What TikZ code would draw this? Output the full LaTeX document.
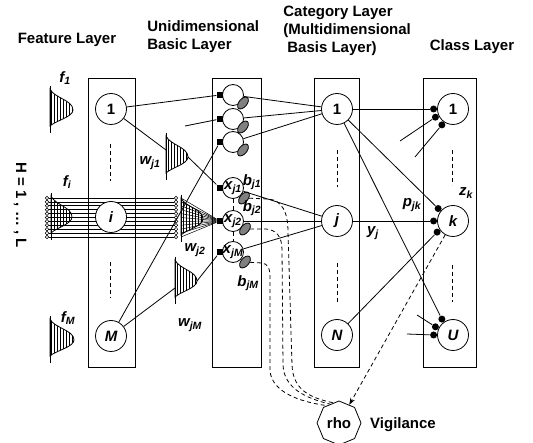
\documentclass[tikz,border=0pt]{standalone}
\usepackage{fontspec}
\setmainfont{Liberation Sans}
\usetikzlibrary{patterns.meta,shapes.geometric,arrows.meta}

% half bell with vertical hatching: name, stem x, peak y, height
\newcommand{\bell}[4]{%
  \coordinate (#1-top) at (#2,#3-24);
  \coordinate (#1-bot) at (#2,#3+23);
  \coordinate (#1-pk) at (#2+#4,#3);
  \draw [pattern={Lines[angle=90,distance=3pt,line width=0.7pt]}] (#2,#3-21) .. controls (#2+4,#3-12) and (#2+#4,#3-10) .. (#1-pk) .. controls (#2+#4,#3+7) and (#2+5,#3+11) .. (#2,#3+16) -- cycle;
  \draw [] (#1-top) -- (#1-bot);
}

\begin{document}
\begin{tikzpicture}[x=1pt,y=-1pt,line width=0.8pt,
  font=\fontsize{15}{18}\selectfont\bfseries,
  lab/.style={font=\fontsize{15}{18}\selectfont\bfseries\itshape},
  unit/.style={circle,draw,fill=white,minimum size=31pt,inner sep=0pt},
  basic/.style={circle,draw,fill=white,minimum size=21pt,inner sep=0pt},
  sq/.style={rectangle,fill=black,minimum size=6.5pt,inner sep=0pt},
  bias/.style={ellipse,draw,fill=gray,minimum width=14pt,minimum height=8pt,inner sep=0pt,rotate=50},
  jdot/.style={circle,fill=black,minimum size=7pt,inner sep=0pt},
  tap/.style={circle,draw,fill=white,minimum size=3.6pt,inner sep=0pt,line width=0.5pt},
  dsh/.style={dash pattern=on 4pt off 3pt},
  ttl/.style={align=left,inner sep=0pt},
  vig/.style={regular polygon,regular polygon sides=8,shape border rotate=22.5,draw,fill=white,minimum size=44pt,inner sep=0pt}]
\useasboundingbox (0,0) rectangle (533,443);

\node [ttl] (tfeat) at (67,40) {Feature Layer};
\node [ttl,anchor=west] (tuni) at (147,37) {Unidimensional\\Basic Layer};
\node [ttl,anchor=west] (tcat) at (283,31) {Category Layer\\(Multidimensional\\\hspace*{4pt}Basis Layer)};
\node [ttl] (tcls) at (472,47) {Class Layer};
\node [rotate=-90] (hrange) at (20,205) {H = 1 , … , L};

\draw [] (88,78) rectangle (135,367);
\draw [] (212,78) rectangle (261,367);
\draw [] (314,78) rectangle (359,367);
\draw [] (423,78) rectangle (476,367);

% feature layer
\bell{bf1}{50}{110}{23}
\bell{bfi}{51}{217}{21}
\bell{bfM}{50}{340}{24}
\bell{bw1}{166}{157}{22}
\bell{bw2}{181}{219}{22}
\bell{bwM}{175}{281}{22}
\foreach \k in {0,...,10} {
  \node [tap] (ta\k) at (47,198+3.9*\k) {};
  \node [tap] (tb\k) at (176,198+3.9*\k) {};
  \coordinate (tc\k) at (181,198+3.9*\k);
  \draw [line width=0.6pt] (ta\k) -- (tb\k);
}
\node [unit] (f1) at (111,109) {1};
\node [unit,lab] (fi) at (111,217) {i};
\node [unit,lab] (fM) at (111,336) {M};
\draw [dsh] (110,144) -- (110,181);
\draw [dsh] (110,262) -- (110,298);
\node [lab] (lf1) at (65,78) {f\textsubscript{1}};
\node [lab] (lfi) at (67,182) {f\textsubscript{i}};
\node [lab] (lfM) at (68,318) {f\textsubscript{M}};
\node [lab] (lw1) at (150,163) {w\textsubscript{j1}};
\node [lab] (lw2) at (195,250) {w\textsubscript{j2}};
\node [lab] (lwM) at (190,325) {w\textsubscript{jM}};

% unidimensional basic layer
\node [basic] (u1) at (233,95) {};
\node [basic] (u2) at (233,119) {};
\node [basic] (u3) at (233,142) {};
\node [basic,label={[lab]center:x\textsubscript{j1}}] (xj1) at (233,188) {};
\node [basic,label={[lab]center:x\textsubscript{j2}}] (xj2) at (233,221) {};
\node [basic,label={[lab]center:x\textsubscript{jM}}] (xjM) at (233,252) {};
\draw [dsh] (xj1) -- (xj2);
\draw [dsh] (xj2) -- (xjM);
\node [bias] (e1) at (243,103) {};
\node [bias] (e2) at (243,127) {};
\node [bias] (e3) at (243,150) {};
\node [bias] (bj1) at (244,198) {};
\node [bias] (bj2) at (245,229) {};
\node [bias] (bjM) at (245,262) {};
\node [sq] (q1) at (220,95) {};
\node [sq] (q2) at (220,119) {};
\node [sq] (q3) at (220,142) {};
\node [sq] (qx1) at (220,188) {};
\node [sq] (qx2) at (220,221) {};
\node [sq] (qxM) at (220,252) {};
\node [lab] (lb1) at (252,182) {b\textsubscript{j1}};
\node [lab] (lb2) at (252,208) {b\textsubscript{j2}};
\node [lab] (lbM) at (248,283) {b\textsubscript{jM}};

\coordinate (w1in) at (166,150);
\coordinate (wMin) at (175,288);
\coordinate (st2) at (185,126);
\draw [] (f1) -- (q1);
\draw [] (f1) -- (w1in);
\draw [] (bw1-pk) -- (qx1);
\draw [] (st2) -- (q2);
\draw [] (fM) -- (q3);
\draw [] (fM) -- (wMin);
\draw [] (bwM-pk) -- (qxM);
\foreach \k in {0,...,10} \draw [line width=0.5pt] (tc\k) -- (qx2);

% category layer
\node [unit] (c1) at (337,109) {1};
\node [unit,lab] (cj) at (337,221) {j};
\node [unit,lab] (cN) at (337,335) {N};
\draw [dsh] (337,150) -- (337,187);
\draw [dsh] (337,263) -- (337,302);
\draw [] (u1) -- (c1);
\draw [] (u2) -- (c1);
\draw [] (u3) -- (c1);
\draw [] (xj1) -- (cj);
\draw [] (xj2) -- (cj);
\draw [] (xjM) -- (cj);

% class layer
\node [unit] (k1) at (453,109) {1};
\node [unit,lab] (kk) at (453,221) {k};
\node [unit,lab] (kU) at (453,335) {U};
\draw [dsh] (452,150) -- (452,185);
\draw [dsh] (452,265) -- (452,302);
\node [jdot] (d11) at ([shift={(180:3.5pt)}]k1.180) {};
\node [jdot] (d12) at ([shift={(205:3.5pt)}]k1.205) {};
\node [jdot] (d13) at ([shift={(235:3.5pt)}]k1.235) {};
\node [jdot] (dk1) at ([shift={(140:3.5pt)}]kk.140) {};
\node [jdot] (dk2) at ([shift={(180:3.5pt)}]kk.180) {};
\node [jdot] (dk3) at ([shift={(215:3.5pt)}]kk.215) {};
\node [jdot] (dU1) at ([shift={(125:3.5pt)}]kU.125) {};
\node [jdot] (dU2) at ([shift={(155:3.5pt)}]kU.155) {};
\node [jdot] (dU3) at ([shift={(180:3.5pt)}]kU.180) {};
\coordinate (st12) at (400,141);
\coordinate (st13) at (415,157);
\coordinate (stU2) at (417,315);
\coordinate (stU3) at (407,334);
\draw [] (c1) -- (d11);
\draw [] (c1) -- (dk1);
\draw [] (c1) -- (dU1);
\draw [] (cj) -- (dk2);
\draw [] (cN) -- (dk3);
\draw [] (st12) -- (d12);
\draw [] (st13) -- (d13);
\draw [] (stU2) -- (dU2);
\draw [] (stU3) -- (dU3);
\node [lab] (lyj) at (373,233) {y\textsubscript{j}};
\node [lab] (lpjk) at (412,205) {p\textsubscript{jk}};
\node [lab] (lzk) at (466,193) {z\textsubscript{k}};

% vigilance
\node [vig] (rho) at (339,423) {rho};
\node [] (vigil) at (403,425) {Vigilance};
\draw [dsh] (bj1) -- (268,199) .. controls (282,200) and (288,212) .. (288,232) -- (292,365) .. controls (293,390) and (310,398) .. (rho.105);
\draw [dsh] (bj2) -- (266,229) .. controls (276,230) and (282,236) .. (282,250) -- (283,365) .. controls (284,388) and (305,398) .. (rho.115);
\draw [dsh] (bjM) -- (262,263) .. controls (268,264) and (270,268) .. (270,278) -- (270,370) .. controls (271,392) and (300,402) .. (rho.125);
\draw [dsh,-{Stealth[length=7pt,width=5pt]}] (kk) -- (rho);
\end{tikzpicture}
\end{document}
